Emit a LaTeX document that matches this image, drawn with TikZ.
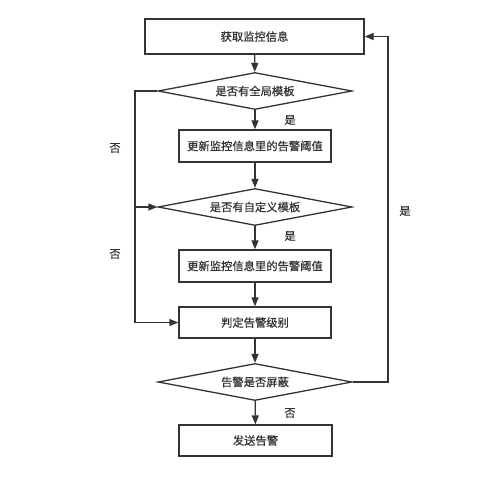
\documentclass[tikz,border=0pt]{standalone}
\usepackage{fontspec}
\newfontfamily\cjk[FakeBold=0.6]{Noto Sans CJK SC}
\usetikzlibrary{arrows.meta,shapes.geometric}
\definecolor{ink}{HTML}{333333}

\begin{document}
\begin{tikzpicture}[x=1pt,y=-1pt,line width=1.3pt,
    every node/.style={font=\cjk\fontsize{11.3pt}{13pt}\selectfont,text=ink},
    box/.style={draw=ink,rectangle,inner sep=0pt,minimum width=152pt,minimum height=32pt},
    decision/.style={draw=ink,diamond,aspect=5,inner sep=0pt,minimum width=194pt,minimum height=37pt},
    arrow/.style={draw=ink,-{Triangle[length=9pt,width=7pt]}}]
    \useasboundingbox (0,0) rectangle (500,476);
    \node[box,minimum width=219pt,minimum height=35pt] (fetch) at (254.5,36.5) {获取监控信息};
    \node[decision] (global) at (255,91) {是否有全局模板};
    \node[box] (upd1) at (255,146) {更新监控信息里的告警阈值};
    \node[decision] (custom) at (255,207) {是否有自定义模板};
    \node[box] (upd2) at (255,266) {更新监控信息里的告警阈值};
    \node[box,minimum height=31pt] (judge) at (255,322.5) {判定告警级别};
    \node[decision] (mask) at (255,382) {告警是否屏蔽};
    \node[box,minimum width=153pt,minimum height=31pt] (send) at (255.5,440.5) {发送告警};
    \node (yes1) at (290,120) {是};
    \node (yes2) at (290,236) {是};
    \node (no3) at (290,413) {否};
    \node (no1) at (115,148) {否};
    \node (no2) at (115,254) {否};
    \node (yes3) at (405,211) {是};
    \coordinate (rail) at (135,91);
    \coordinate (back) at (388,382);

    \draw[arrow] (fetch) -- (global);
    \draw[arrow] (global) -- (upd1);
    \draw[arrow] (upd1) -- (custom);
    \draw[arrow] (custom) -- (upd2);
    \draw[arrow] (upd2) -- (judge);
    \draw[arrow] (judge) -- (mask);
    \draw[arrow] (mask) -- (send);
    \draw[arrow] (global.west) -- (rail) |- (judge.west);
    \draw[arrow] (rail |- custom.west) -- (custom.west);
    \draw[arrow] (mask.east) -- (back) |- (fetch.east);
  \end{tikzpicture}
\end{document}
